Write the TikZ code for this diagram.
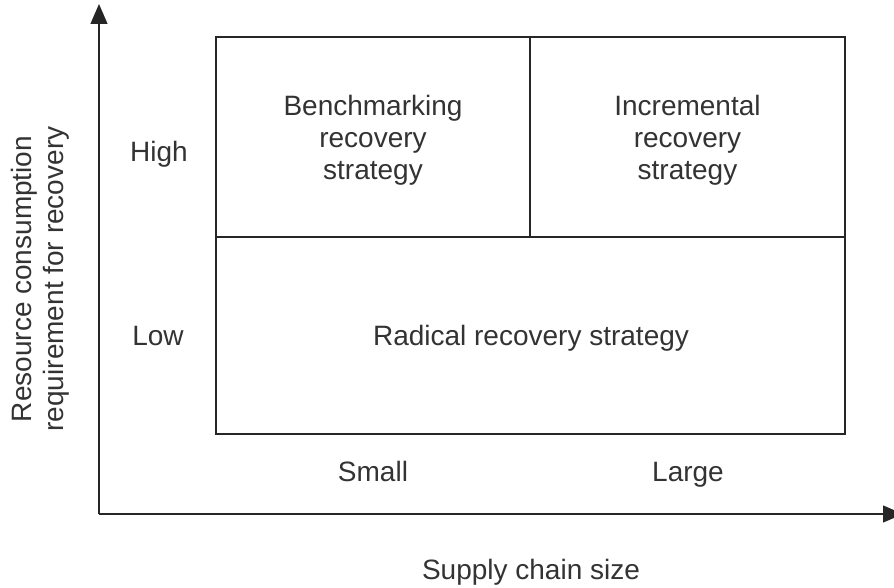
\documentclass[tikz,border=0pt]{standalone}
\usepackage{fontspec}
\setmainfont{Liberation Sans}
\usetikzlibrary{arrows.meta}
\begin{document}
\begin{tikzpicture}[x=1pt,y=-1pt,
  txt/.style={text=black!80, font=\fontsize{28}{32}\selectfont, align=center, inner sep=0pt},
  lbl/.style={txt, anchor=base},
  cell/.style={draw=black!85, line width=1.3pt, inner sep=0pt},
  axis/.style={draw=black!85, line width=1.3pt, -{Triangle[length=20pt,width=17pt]}}]
  \useasboundingbox (0,0) rectangle (894,588);
  \clip (0,0) rectangle (894,588);
  \fill[white] (0,0) rectangle (894,588);

  % axes
  \coordinate (origin) at (99,514);
  \coordinate (ytip) at (99,4);
  \coordinate (xtip) at (903,514);
  \draw[axis] (origin) -- (ytip);
  \draw[axis] (origin) -- (xtip);

  % quadrant cells
  \node[cell, minimum width=314pt, minimum height=200pt] (bench) at (373,137) {};
  \node[cell, minimum width=315pt, minimum height=200pt] (incr) at (687.5,137) {};
  \node[cell, minimum width=629pt, minimum height=197pt] (radical) at (530.5,335.5) {};

  % cell texts
  \node[txt] (benchtext) at ([yshift=-3pt]bench.center) {Benchmarking\\recovery\\strategy};
  \node[txt] (incrtext) at ([yshift=-3pt]incr.center) {Incremental\\recovery\\strategy};
  \node[lbl] (radicaltext) at (531,345) {Radical recovery strategy};

  % axis levels
  \node[lbl] (high) at (159,162) {High};
  \node[lbl] (low) at (158,345) {Low};
  \node[lbl] (small) at (373,481) {Small};
  \node[lbl] (large) at (688,481) {Large};

  % axis titles
  \node[lbl] (xlabel) at (531,579) {Supply chain size};
  \node[txt, rotate=90] (ylabel) at (40,279) {Resource consumption\\requirement for recovery};
\end{tikzpicture}
\end{document}
